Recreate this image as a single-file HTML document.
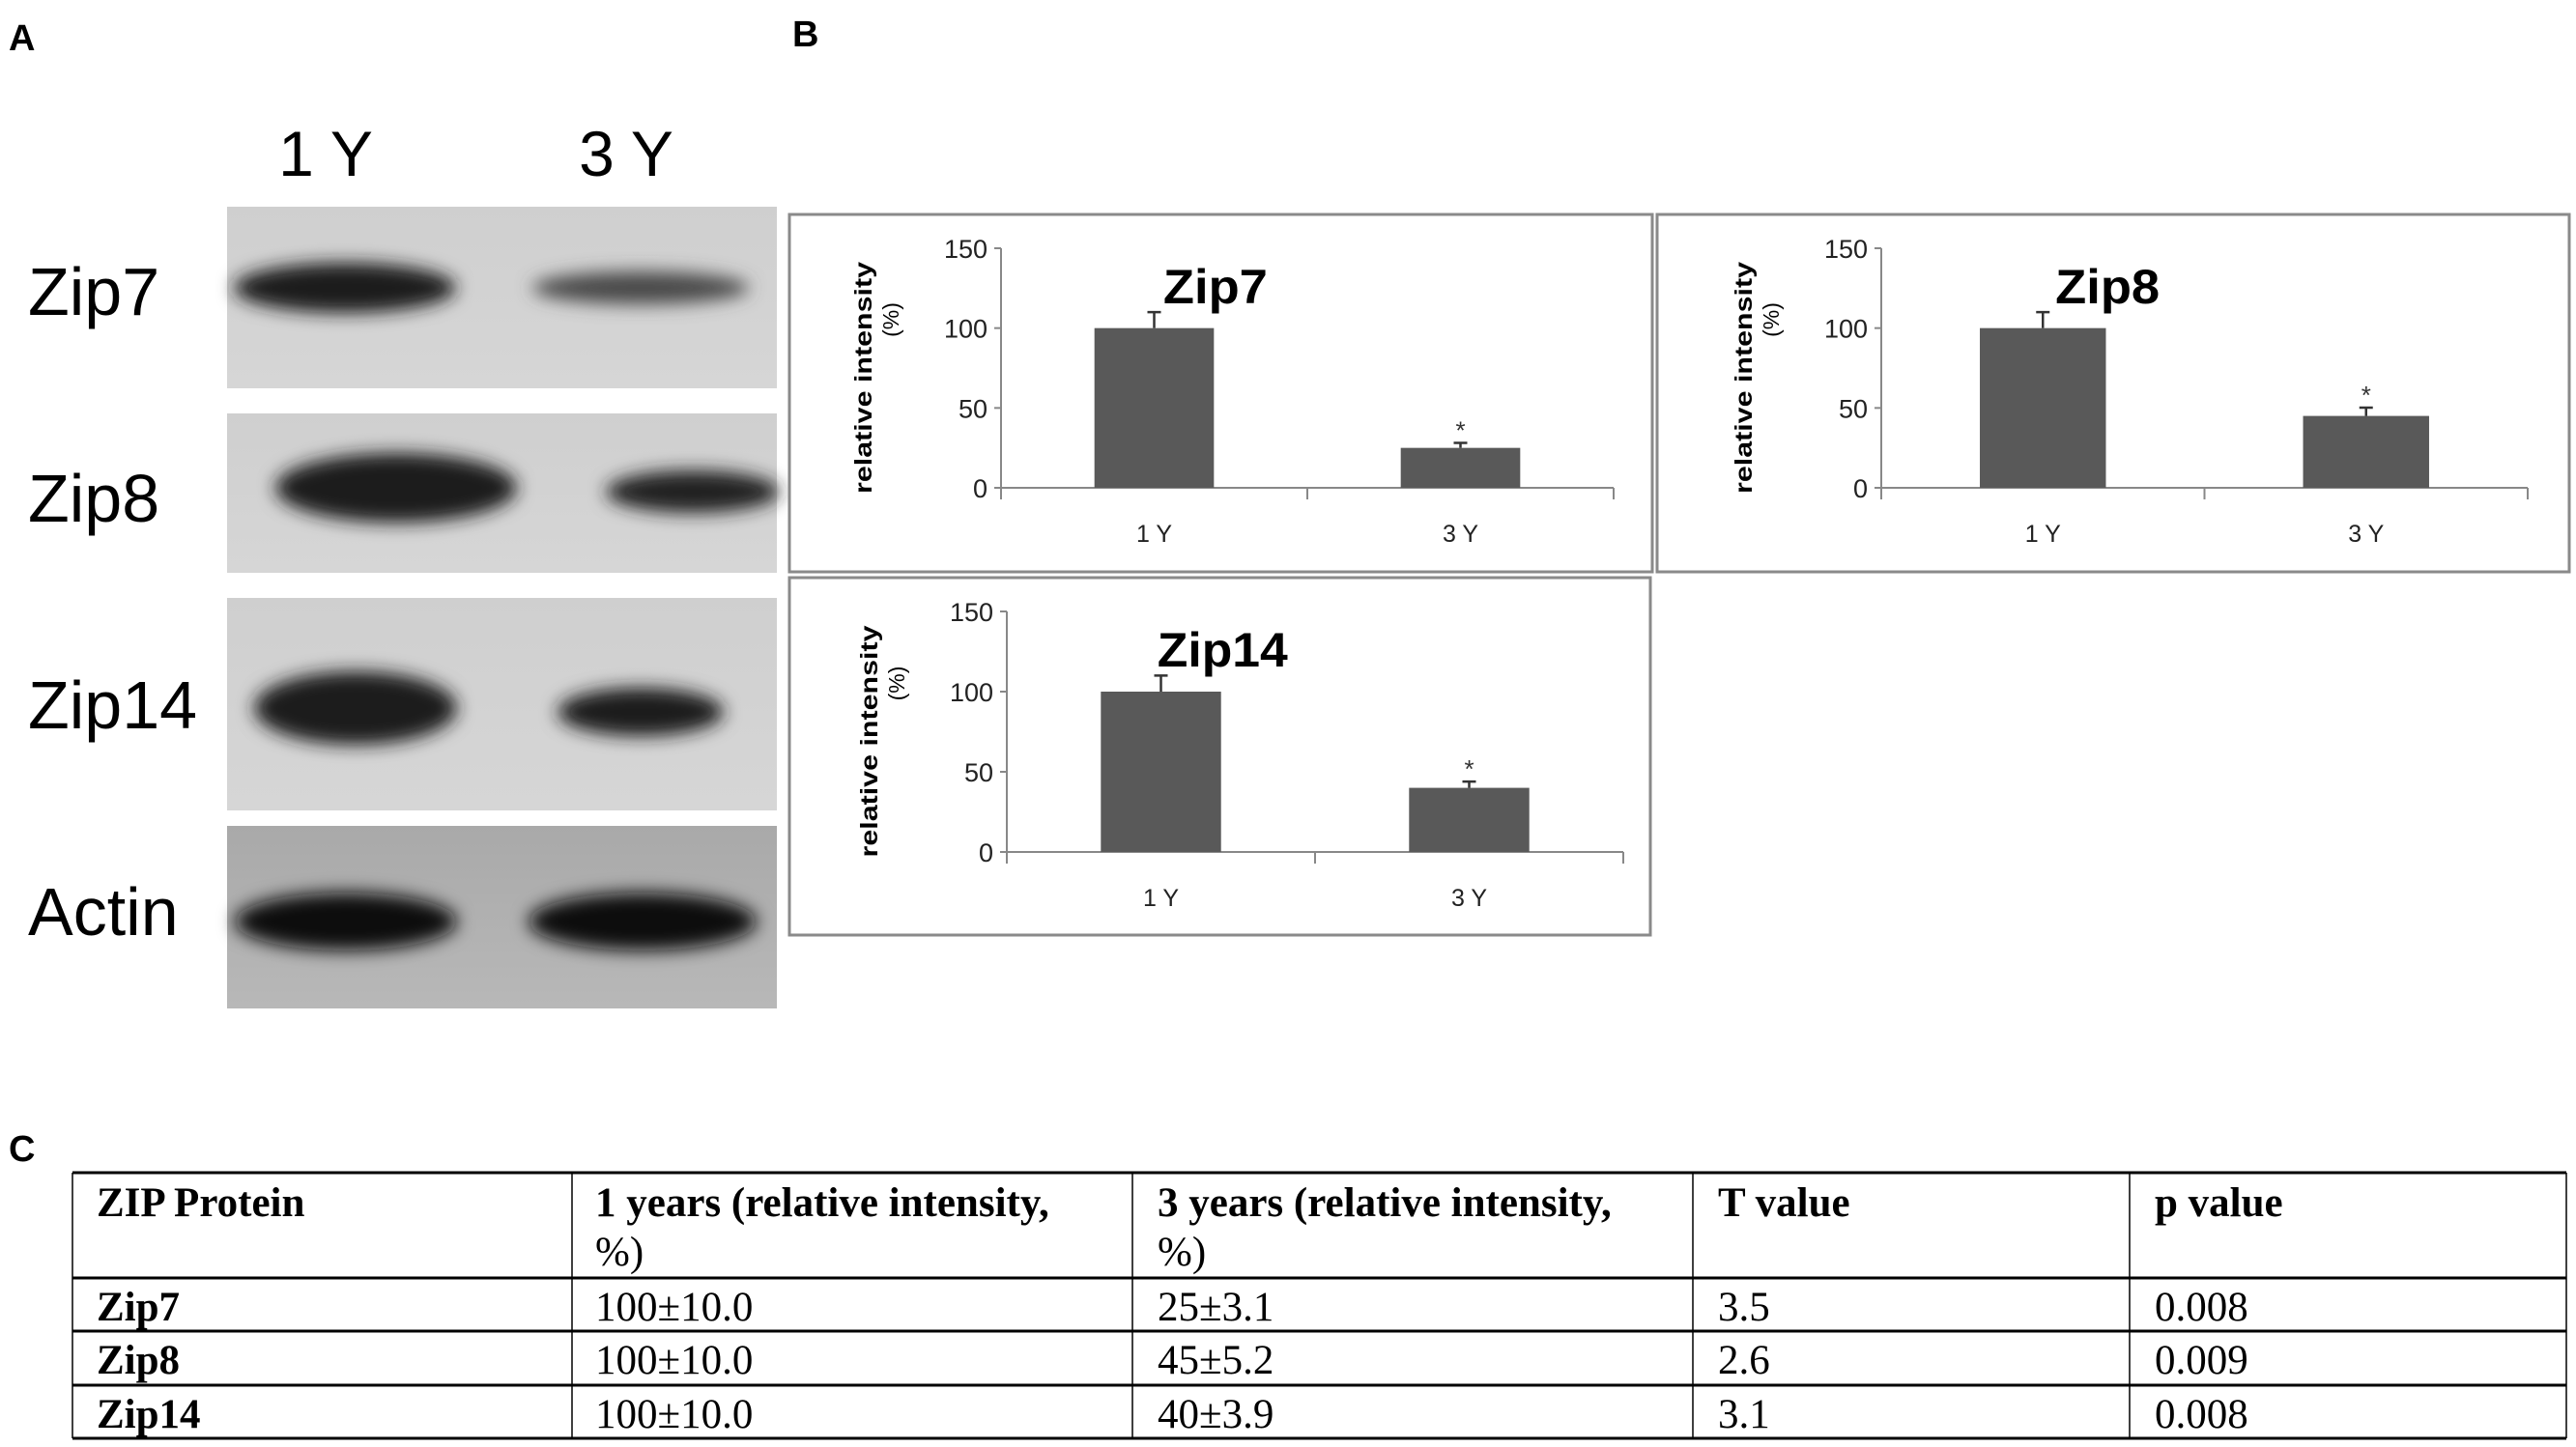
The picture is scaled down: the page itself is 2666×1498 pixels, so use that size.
<!DOCTYPE html>
<html><head><meta charset="utf-8">
<style>
html,body{margin:0;padding:0;background:#fff;}
svg{display:block;}
</style></head>
<body>
<svg id="fig" width="2666" height="1498" viewBox="0 0 2666 1498" xmlns="http://www.w3.org/2000/svg">
<defs>
  <filter id="blur" x="-30%" y="-60%" width="160%" height="220%"><feGaussianBlur stdDeviation="9"/></filter>
  <linearGradient id="bg1" x1="0" y1="0" x2="0" y2="1"><stop offset="0" stop-color="#cfcfcf"/><stop offset="1" stop-color="#d6d6d6"/></linearGradient>
  <linearGradient id="bgA" x1="0" y1="0" x2="0" y2="1"><stop offset="0" stop-color="#a9a9a9"/><stop offset="1" stop-color="#b8b8b8"/></linearGradient>
</defs>
<text x="9" y="52" font-family="Liberation Sans, sans-serif" font-weight="bold" font-size="38">A</text>
<text x="820" y="48" font-family="Liberation Sans, sans-serif" font-weight="bold" font-size="38">B</text>
<text x="9" y="1202" font-family="Liberation Sans, sans-serif" font-weight="bold" font-size="38">C</text>

<g>
  <text x="337" y="182" text-anchor="middle" font-family="Liberation Sans, sans-serif" font-size="66">1 Y</text>
  <text x="648" y="182" text-anchor="middle" font-family="Liberation Sans, sans-serif" font-size="66">3 Y</text>

  <rect x="235" y="214" width="569" height="188" fill="url(#bg1)"/>
  <ellipse cx="357" cy="298" rx="115" ry="26" fill="#1c1c1c" filter="url(#blur)"/>
  <ellipse cx="663" cy="298" rx="112" ry="17" fill="#4a4a4a" filter="url(#blur)"/>
  <text x="29" y="326" font-family="Liberation Sans, sans-serif" font-size="70">Zip7</text>

  <rect x="235" y="428" width="569" height="165" fill="url(#bg1)"/>
  <ellipse cx="410" cy="505" rx="125" ry="36" fill="#1c1c1c" filter="url(#blur)"/>
  <ellipse cx="717" cy="509" rx="90" ry="22" fill="#222" filter="url(#blur)"/>
  <text x="29" y="540" font-family="Liberation Sans, sans-serif" font-size="70">Zip8</text>

  <rect x="235" y="619" width="569" height="220" fill="url(#bg1)"/>
  <ellipse cx="368" cy="733" rx="105" ry="38" fill="#1e1e1e" filter="url(#blur)"/>
  <ellipse cx="663" cy="737" rx="86" ry="25" fill="#1e1e1e" filter="url(#blur)"/>
  <text x="29" y="754" font-family="Liberation Sans, sans-serif" font-size="70">Zip14</text>

  <rect x="235" y="855" width="569" height="189" fill="url(#bgA)"/>
  <ellipse cx="358" cy="954" rx="115" ry="30" fill="#111" filter="url(#blur)"/>
  <ellipse cx="665" cy="954" rx="118" ry="30" fill="#111" filter="url(#blur)"/>
  <text x="29" y="968" font-family="Liberation Sans, sans-serif" font-size="70">Actin</text>
</g>

<g id="charts"></g>

<g font-family="Liberation Serif, serif" font-size="43" fill="#000">
  <line x1="75" y1="1214" x2="2656" y2="1214" stroke="#000" stroke-width="3"/>
  <line x1="75" y1="1323" x2="2656" y2="1323" stroke="#000" stroke-width="3"/>
  <line x1="75" y1="1378" x2="2656" y2="1378" stroke="#000" stroke-width="3"/>
  <line x1="75" y1="1434" x2="2656" y2="1434" stroke="#000" stroke-width="3"/>
  <line x1="75" y1="1489" x2="2656" y2="1489" stroke="#000" stroke-width="3"/>
  <line x1="75" y1="1214" x2="75" y2="1489" stroke="#000" stroke-width="1.5"/>
  <line x1="592" y1="1214" x2="592" y2="1489" stroke="#000" stroke-width="1.5"/>
  <line x1="1172" y1="1214" x2="1172" y2="1489" stroke="#000" stroke-width="1.5"/>
  <line x1="1752" y1="1214" x2="1752" y2="1489" stroke="#000" stroke-width="1.5"/>
  <line x1="2204" y1="1214" x2="2204" y2="1489" stroke="#000" stroke-width="1.5"/>
  <line x1="2656" y1="1214" x2="2656" y2="1489" stroke="#000" stroke-width="1.5"/>
  <g font-weight="bold">
    <text x="100" y="1259">ZIP Protein</text>
    <text x="616" y="1259">1 years (relative intensity,</text>
    <text x="616" y="1310" font-weight="normal">%)</text>
    <text x="1198" y="1259">3 years (relative intensity,</text>
    <text x="1198" y="1310" font-weight="normal">%)</text>
    <text x="1778" y="1259">T value</text>
    <text x="2230" y="1259">p value</text>
    <text x="100" y="1367">Zip7</text>
    <text x="100" y="1422">Zip8</text>
    <text x="100" y="1478">Zip14</text>
  </g>
  <text x="616" y="1367">100±10.0</text>
  <text x="1198" y="1367">25±3.1</text>
  <text x="1778" y="1367">3.5</text>
  <text x="2230" y="1367">0.008</text>
  <text x="616" y="1422">100±10.0</text>
  <text x="1198" y="1422">45±5.2</text>
  <text x="1778" y="1422">2.6</text>
  <text x="2230" y="1422">0.009</text>
  <text x="616" y="1478">100±10.0</text>
  <text x="1198" y="1478">40±3.9</text>
  <text x="1778" y="1478">3.1</text>
  <text x="2230" y="1478">0.008</text>
</g>
</svg>
<script>
const categories = ["1 Y", "3 Y"];
const yTicks = [0, 50, 100, 150];
const titles = ["Zip7", "Zip8", "Zip14"];
const zip7Values = [100, 25];
const zip7Errors = [10, 3.1];
const zip8Values = [100, 45];
const zip8Errors = [10, 5.2];
const zip14Values = [100, 40];
const zip14Errors = [10, 3.9];
const significant = [false, true];

const NS = "http://www.w3.org/2000/svg";
const root = document.getElementById("charts");
function mk(tag, attrs, parent) {
  const e = document.createElementNS(NS, tag);
  for (const k in attrs) e.setAttribute(k, attrs[k]);
  parent.appendChild(e);
  return e;
}
const layouts = [
  {bx:817, by:222, bw:893, bh:370, ax0:1036, ax1:1670, y150:257, y0:505},
  {bx:1715, by:222, bw:944, bh:370, ax0:1947, ax1:2616, y150:257, y0:505},
  {bx:817, by:598, bw:891, bh:370, ax0:1042, ax1:1680, y150:633, y0:882}
];
const seriesVals = [zip7Values, zip8Values, zip14Values];
const seriesErrs = [zip7Errors, zip8Errors, zip14Errors];

layouts.forEach((L, i) => {
  const g = mk("g", {}, root);
  
  
  const frame = mk("rect", {x:L.bx, y:L.by, width:L.bw, height:L.bh, fill:"#fff", stroke:"#8a8a8a", "stroke-width":3}, g);
  
  
  const yScale = v => L.y0 - (v / 150) * (L.y0 - L.y150);
  const band = (L.ax1 - L.ax0) / categories.length;
  const xCenter = j => L.ax0 + band * (j + 0.5);
  const barW = band * 0.39;
  const ya = mk("line", {x1:L.ax0, y1:L.y150, x2:L.ax0, y2:L.y0 + 10, stroke:"#888", "stroke-width":2}, g);
  
  
  yTicks.forEach(t => {
    const yy = yScale(t);
    mk("line", {x1:L.ax0 - 7, y1:yy, x2:L.ax0, y2:yy, stroke:"#888", "stroke-width":2}, g);
    const tl = mk("text", {x:L.ax0 - 14, y:yy + 10, "text-anchor":"end", "font-family":"Liberation Sans, sans-serif", "font-size":27, fill:"#222"}, g);
    tl.textContent = t;
    
    
  });
  const xa = mk("line", {x1:L.ax0, y1:L.y0, x2:L.ax1, y2:L.y0, stroke:"#888", "stroke-width":2}, g);
  
  
  for (let j = 0; j <= categories.length; j++) {
    mk("line", {x1:L.ax0 + band * j, y1:L.y0, x2:L.ax0 + band * j, y2:L.y0 + 12, stroke:"#888", "stroke-width":2}, g);
  }
  categories.forEach((c, j) => {
    const v = seriesVals[i][j], e = seriesErrs[i][j];
    const cx = xCenter(j);
    const bar = mk("rect", {x:cx - barW / 2, y:yScale(v), width:barW, height:L.y0 - yScale(v), fill:"#595959"}, g);
    
    
    const eb = mk("path", {d:`M${cx},${yScale(v)} V${yScale(v + e)} M${cx - 7},${yScale(v + e)} H${cx + 7}`, stroke:"#333", "stroke-width":2.5, fill:"none"}, g);
    
    
    if (significant[j]) {
      const st = mk("text", {x:cx, y:yScale(v + e) - 4, "text-anchor":"middle", "font-family":"Liberation Sans, sans-serif", "font-size":26, fill:"#333"}, g);
      st.textContent = "*";
      
      
    }
    const xl = mk("text", {x:cx, y:L.y0 + 56, "text-anchor":"middle", "font-family":"Liberation Sans, sans-serif", "font-size":25, fill:"#222"}, g);
    xl.textContent = c;
    
    
  });
  const tt = mk("text", {x:L.ax0 + (L.ax1 - L.ax0) * 0.35, y:L.by + 92, "text-anchor":"middle", "font-family":"Liberation Sans, sans-serif", "font-weight":"bold", "font-size":50, textLength: titles[i].length * 27, lengthAdjust:"spacingAndGlyphs"}, g);
  tt.textContent = titles[i];
  
  
  const cy = (L.y150 + L.y0) / 2 + 10;
  const yt = mk("text", {x:0, y:0, transform:`translate(${L.ax0 - 134},${cy}) rotate(-90)`, "text-anchor":"middle", "font-family":"Liberation Sans, sans-serif", "font-weight":"bold", "font-size":25, textLength:240, lengthAdjust:"spacingAndGlyphs"}, g);
  yt.textContent = "relative intensity";
  
  
  const yp = mk("text", {x:0, y:0, transform:`translate(${L.ax0 - 106},${cy - 60}) rotate(-90)`, "text-anchor":"middle", "font-family":"Liberation Sans, sans-serif", "font-size":23}, g);
  yp.textContent = "(%)";
  
  
});
</script>
</body></html>
